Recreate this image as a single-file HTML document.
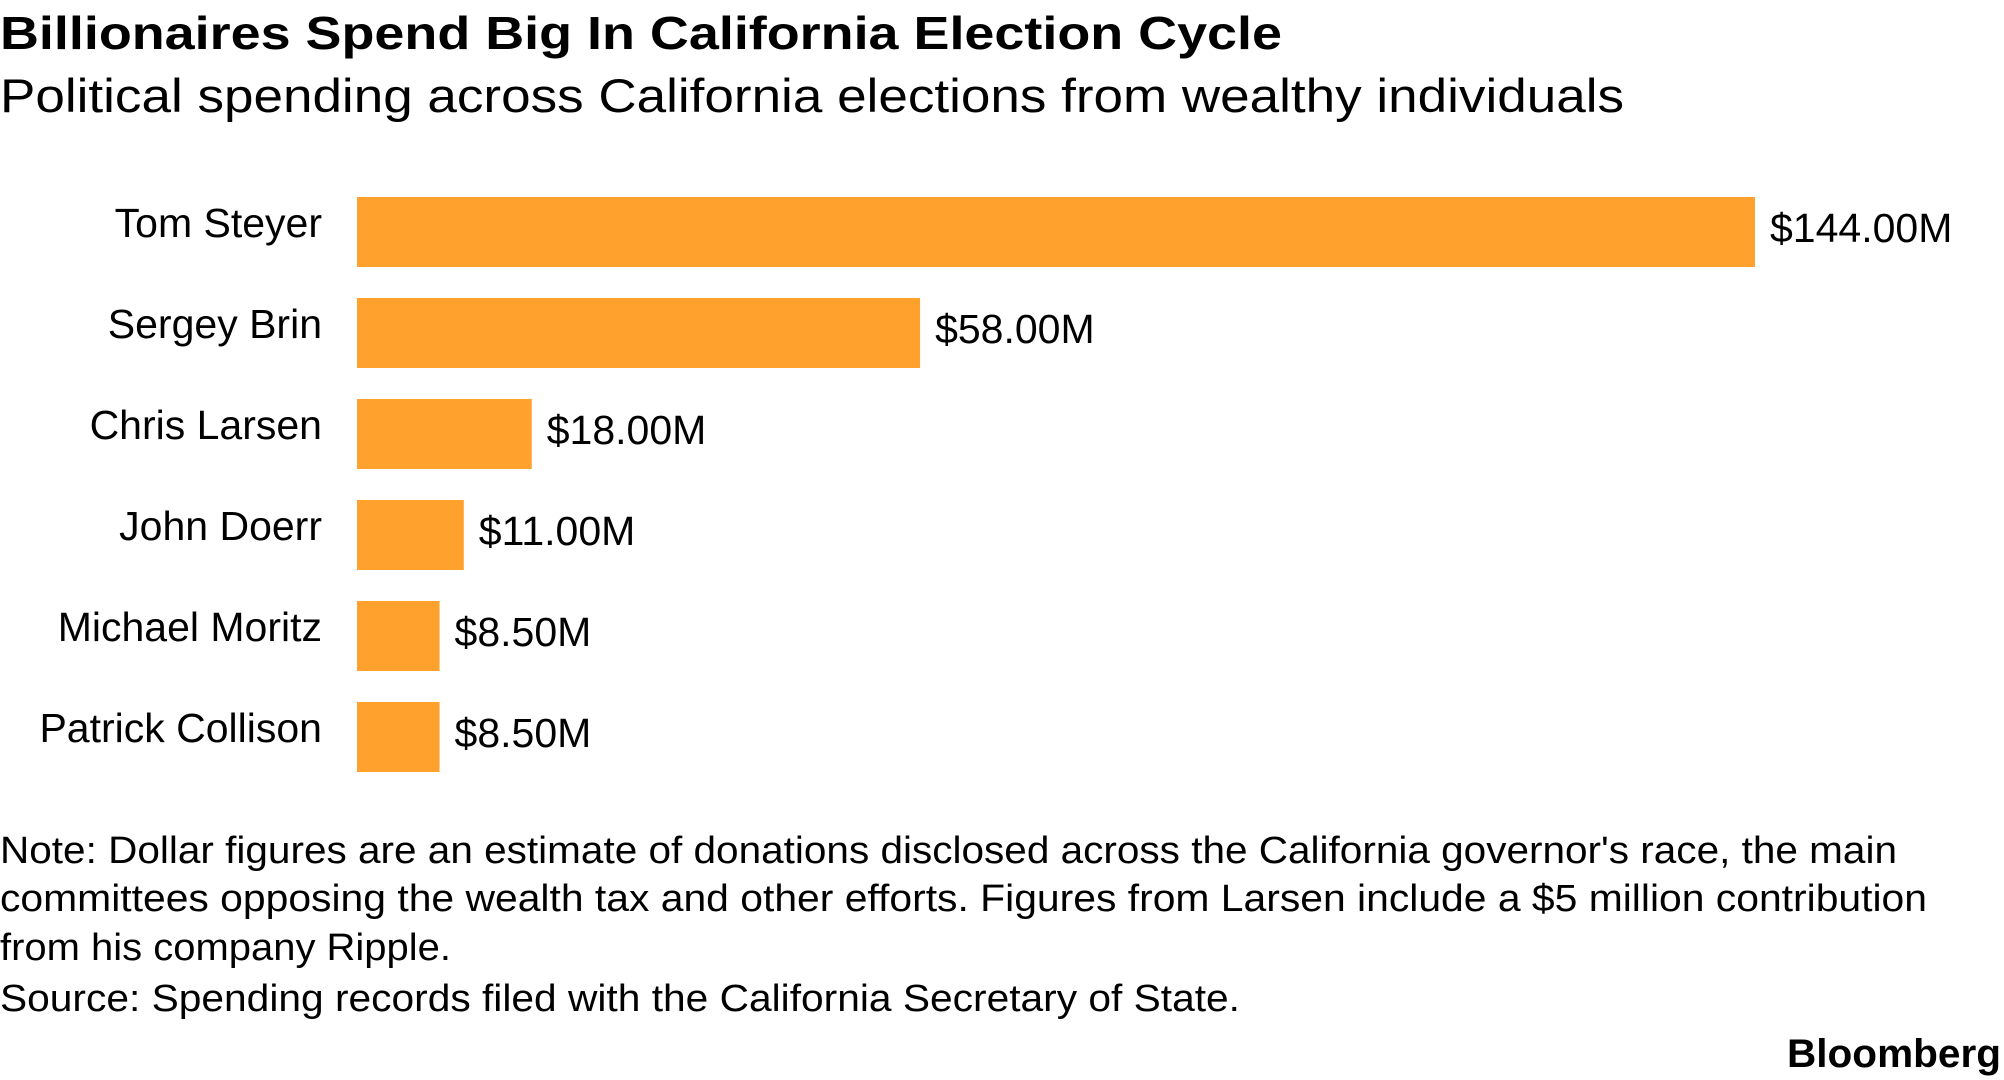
<!DOCTYPE html>
<html><head><meta charset="utf-8"><style>
html,body{margin:0;padding:0;background:#fff;}
svg{display:block;font-family:"Liberation Sans",sans-serif;}
</style></head><body>
<svg id="chart" width="2004" height="1080" viewBox="0 0 2004 1080">
<text x="0" y="49" font-size="46" font-weight="bold" fill="#000" textLength="1282" lengthAdjust="spacingAndGlyphs">Billionaires Spend Big In California Election Cycle</text>
<text x="0" y="112" font-size="47" fill="#000" textLength="1624" lengthAdjust="spacingAndGlyphs">Political spending across California elections from wealthy individuals</text>
<g id="bars"></g>
<text x="0" y="863" font-size="38" fill="#000" textLength="1897" lengthAdjust="spacingAndGlyphs">Note: Dollar figures are an estimate of donations disclosed across the California governor's race, the main</text>
<text x="0" y="911" font-size="38" fill="#000" textLength="1927" lengthAdjust="spacingAndGlyphs">committees opposing the wealth tax and other efforts. Figures from Larsen include a $5 million contribution</text>
<text x="0" y="960" font-size="38" fill="#000" textLength="451" lengthAdjust="spacingAndGlyphs">from his company Ripple.</text>
<text x="0" y="1011" font-size="38" fill="#000" textLength="1240" lengthAdjust="spacingAndGlyphs">Source: Spending records filed with the California Secretary of State.</text>
<text x="2001" y="1067" font-size="40" font-weight="bold" fill="#000" text-anchor="end" textLength="214" lengthAdjust="spacingAndGlyphs">Bloomberg</text>
</svg>
<script>
const names = ["Tom Steyer","Sergey Brin","Chris Larsen","John Doerr","Michael Moritz","Patrick Collison"];
const values = [144, 58, 18, 11, 8.5, 8.5];
const valueLabels = ["$144.00M","$58.00M","$18.00M","$11.00M","$8.50M","$8.50M"];
const NS="http://www.w3.org/2000/svg";
const x0=357, pxPerUnit=1398/144, top0=197, pitch=101, barH=70;
function xScale(v){return x0+v*pxPerUnit;}
function yScale(i){return top0+i*pitch;}
const g=document.getElementById('bars');
names.forEach((n,i)=>{
  const y=yScale(i);
  const r=document.createElementNS(NS,'rect');
  r.setAttribute('x',x0);r.setAttribute('y',y);
  r.setAttribute('width',xScale(values[i])-x0);r.setAttribute('height',barH);
  r.setAttribute('fill','#ffa12d');
  
  
  g.appendChild(r);
  const t=document.createElementNS(NS,'text');
  t.setAttribute('x',322);t.setAttribute('y',y+40);
  t.setAttribute('text-anchor','end');t.setAttribute('font-size','41');
  t.textContent=n;
  
  
  g.appendChild(t);
  const v=document.createElementNS(NS,'text');
  v.setAttribute('x',xScale(values[i])+15);v.setAttribute('y',y+45);
  v.setAttribute('font-size','41');
  v.textContent=valueLabels[i];
  
  
  g.appendChild(v);
});
</script>
</body></html>
